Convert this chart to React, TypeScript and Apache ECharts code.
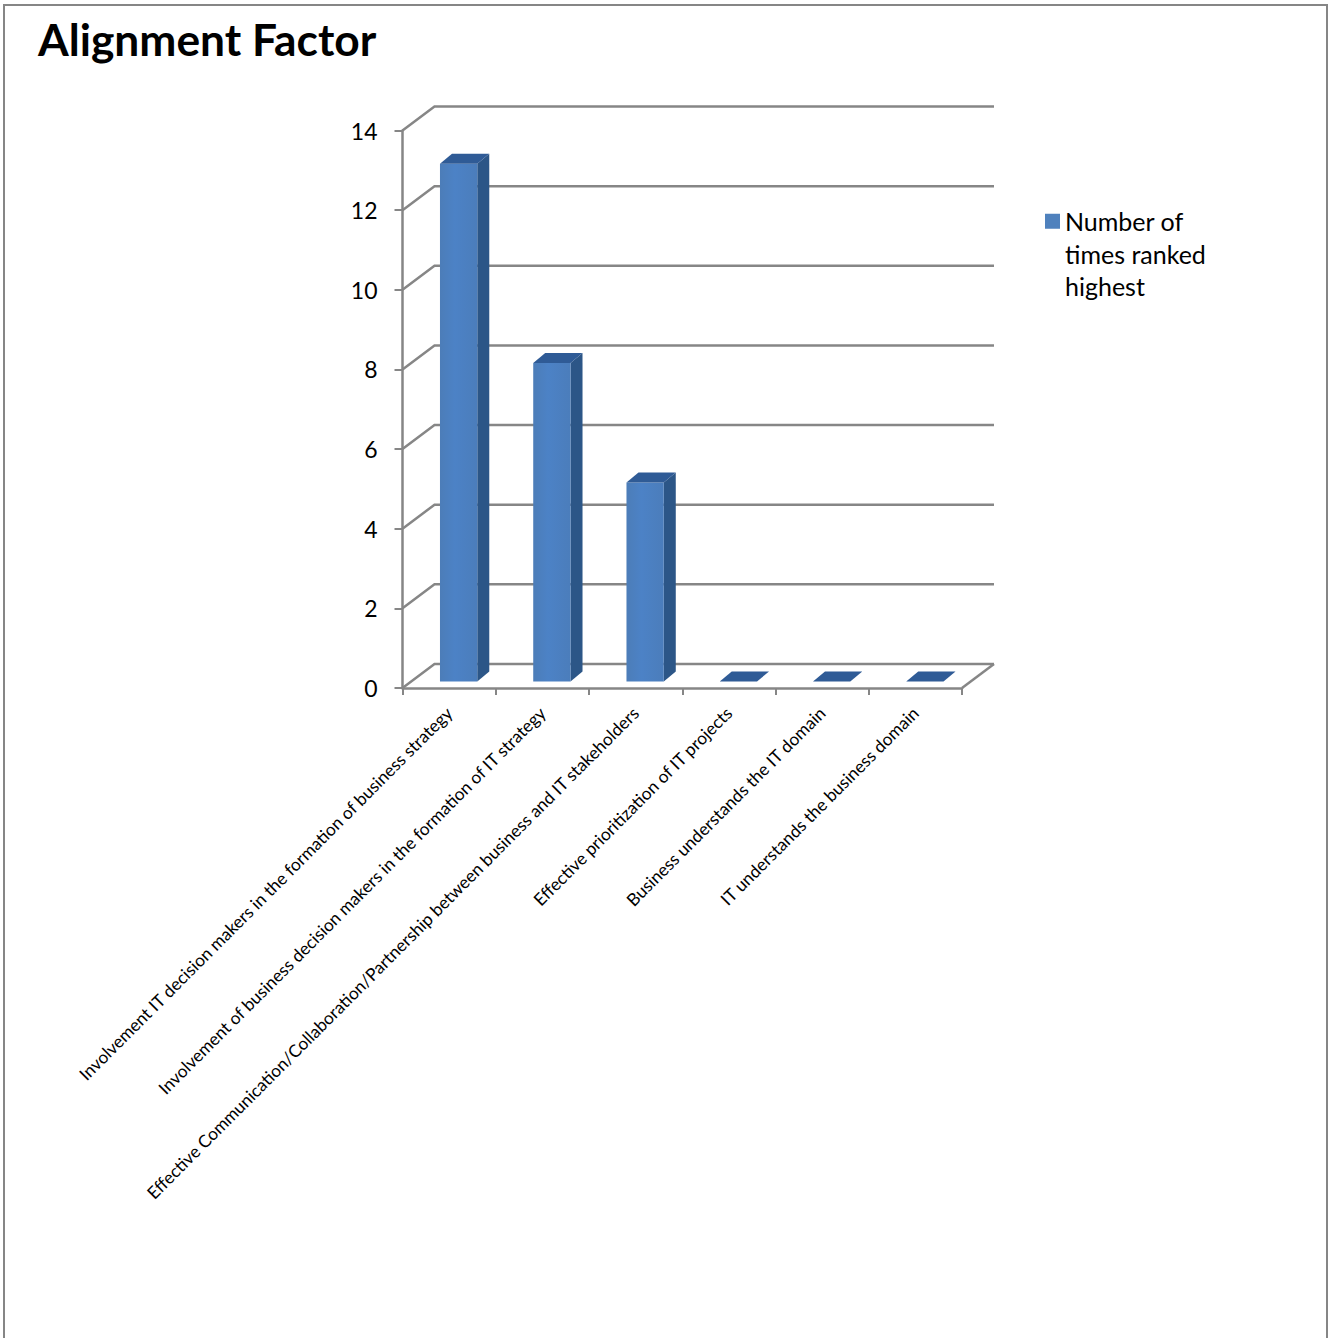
import React, { useEffect, useRef } from "react";
import * as echarts from "echarts";

const categories = [
  "Involvement IT decision makers in the formation of business strategy",
  "Involvement of business decision makers in the formation of IT strategy",
  "Effective Communication/Collaboration/Partnership between business and IT stakeholders",
  "Effective prioritization of IT projects",
  "Business understands the IT domain",
  "IT understands the business domain",
];
const timesRankedHighest = [13, 8, 5, 0, 0, 0];
const yTicks = [0, 2, 4, 6, 8, 10, 12, 14];
const seriesName = "Number of times ranked highest";
const chartTitle = "Alignment Factor";

const FONT = "Lato";
const AXIS_GREY = "#868686";
// Oblique offset of the back wall relative to the front plane.
const WALL_DX = 32;
const WALL_DY = 24;
// Oblique offset of a bar's back edge relative to its front face.
const BAR_DX = 12;
const BAR_DY = 10;

function renderWall(params: any, api: any) {
  const sys = params.coordSys;
  const value = api.value(1);
  const y = api.coord([0, value])[1];
  const lineStyle = { stroke: AXIS_GREY, lineWidth: 2.5, fill: "none" };
  const children: any[] = [
    {
      type: "polyline",
      shape: {
        points: [
          [sys.x, y],
          [sys.x + WALL_DX, y - WALL_DY],
          [sys.x + sys.width + WALL_DX, y - WALL_DY],
        ],
      },
      style: lineStyle,
    },
  ];
  if (value === 0) {
    children.push({
      type: "line",
      shape: {
        x1: sys.x + sys.width,
        y1: y,
        x2: sys.x + sys.width + WALL_DX,
        y2: y - WALL_DY,
      },
      style: lineStyle,
    });
  }
  return { type: "group", children };
}

function renderBar(_params: any, api: any) {
  const [cx, top] = api.coord([api.value(0), api.value(1)]);
  const base = api.coord([api.value(0), 0])[1];
  const band = api.size([1, 0])[0];
  const width = band * 0.4;
  // Bars stand part-way into the floor's depth, so they shift back from the front plane.
  const x0 = cx + 9.5 - width / 2;
  const x1 = x0 + width;
  const yBase = base - 6.5;
  const yTop = top - 6.5;
  const children: any[] = [];
  if (yBase - yTop > 0) {
    children.push(
      {
        type: "polygon",
        shape: {
          points: [
            [x1, yTop],
            [x1 + BAR_DX, yTop - BAR_DY],
            [x1 + BAR_DX, yBase - BAR_DY],
            [x1, yBase],
          ],
        },
        style: { fill: "#2c5687" },
      },
      {
        type: "rect",
        shape: { x: x0, y: yTop, width, height: yBase - yTop },
        style: {
          fill: new echarts.graphic.LinearGradient(0, 0, 1, 0, [
            { offset: 0, color: "#4c7db8" },
            { offset: 0.4, color: "#4c82c6" },
            { offset: 1, color: "#4b7dbb" },
          ]),
        },
      }
    );
  }
  children.push({
    type: "polygon",
    shape: {
      points: [
        [x0, yTop],
        [x0 + BAR_DX, yTop - BAR_DY],
        [x1 + BAR_DX, yTop - BAR_DY],
        [x1, yTop],
      ],
    },
    style: { fill: "#2f5b96" },
  });
  return { type: "group", children };
}

export default function App() {
  const ref = useRef<HTMLDivElement>(null);

  useEffect(() => {
    if (!ref.current) return;
    const chart = echarts.init(ref.current, undefined, { renderer: "svg" });
    chart.setOption({
      animation: false,
      backgroundColor: "#ffffff",
      title: {
        text: chartTitle,
        left: 38,
        top: 16,
        padding: 0,
        textStyle: { fontFamily: FONT, fontWeight: "bold", fontSize: 44.3, color: "#000000" },
      },
      legend: {
        data: [seriesName],
        left: 1045,
        top: 140,
        padding: 0,
        itemWidth: 15,
        itemHeight: 15,
        itemGap: 0,
        selectedMode: false,
        icon: "rect",
        // Two empty lines above keep the swatch level with the first visible line.
        formatter: () => "\n\nNumber of\ntimes ranked\nhighest",
        textStyle: {
          fontFamily: FONT,
          fontSize: 25,
          lineHeight: 32.5,
          color: "#000000",
        },
      },
      grid: {
        left: 402.5,
        top: 130.5,
        width: 559.5,
        height: 557.5,
        outerBoundsMode: "none",
      },
      xAxis: {
        type: "category",
        data: categories,
        axisLine: { show: true, lineStyle: { color: AXIS_GREY, width: 2.5 } },
        axisTick: { show: true, length: 7, lineStyle: { color: AXIS_GREY, width: 2 } },
        axisLabel: {
          interval: 0,
          rotate: 45,
          margin: 22,
          fontFamily: FONT,
          fontSize: 17.3,
          color: "#000000",
        },
      },
      yAxis: {
        type: "value",
        min: 0,
        max: 14,
        interval: 2,
        splitLine: { show: false },
        axisLine: { show: true, lineStyle: { color: AXIS_GREY, width: 2.5 } },
        axisTick: { show: true, length: 8, lineStyle: { color: AXIS_GREY, width: 2 } },
        axisLabel: {
          margin: 25,
          fontFamily: FONT,
          fontSize: 23,
          color: "#000000",
          verticalAlignMinLabel: "middle",
          verticalAlignMaxLabel: "middle",
        },
      },
      series: [
        {
          type: "custom",
          name: "walls",
          silent: true,
          clip: false,
          z: 1,
          renderItem: renderWall,
          encode: { x: 0, y: 1 },
          data: yTicks.map((t) => [0, t]),
        },
        {
          type: "custom",
          name: seriesName,
          clip: false,
          z: 3,
          itemStyle: { color: "#4f81bd" },
          renderItem: renderBar,
          encode: { x: 0, y: 1 },
          data: timesRankedHighest.map((v, i) => [i, v]),
        },
      ],
      graphic: [
        {
          type: "polyline",
          silent: true,
          shape: {
            points: [
              [4, 1338],
              [4, 5],
              [1327, 5],
              [1327, 1338],
            ],
          },
          style: { stroke: "#868686", lineWidth: 2, fill: "none" },
        },
      ],
    });
    return () => chart.dispose();
  }, []);

  return (
    <div
      ref={ref}
      style={{ position: "absolute", left: 0, top: 0, width: 1329, height: 1338 }}
    />
  );
}
